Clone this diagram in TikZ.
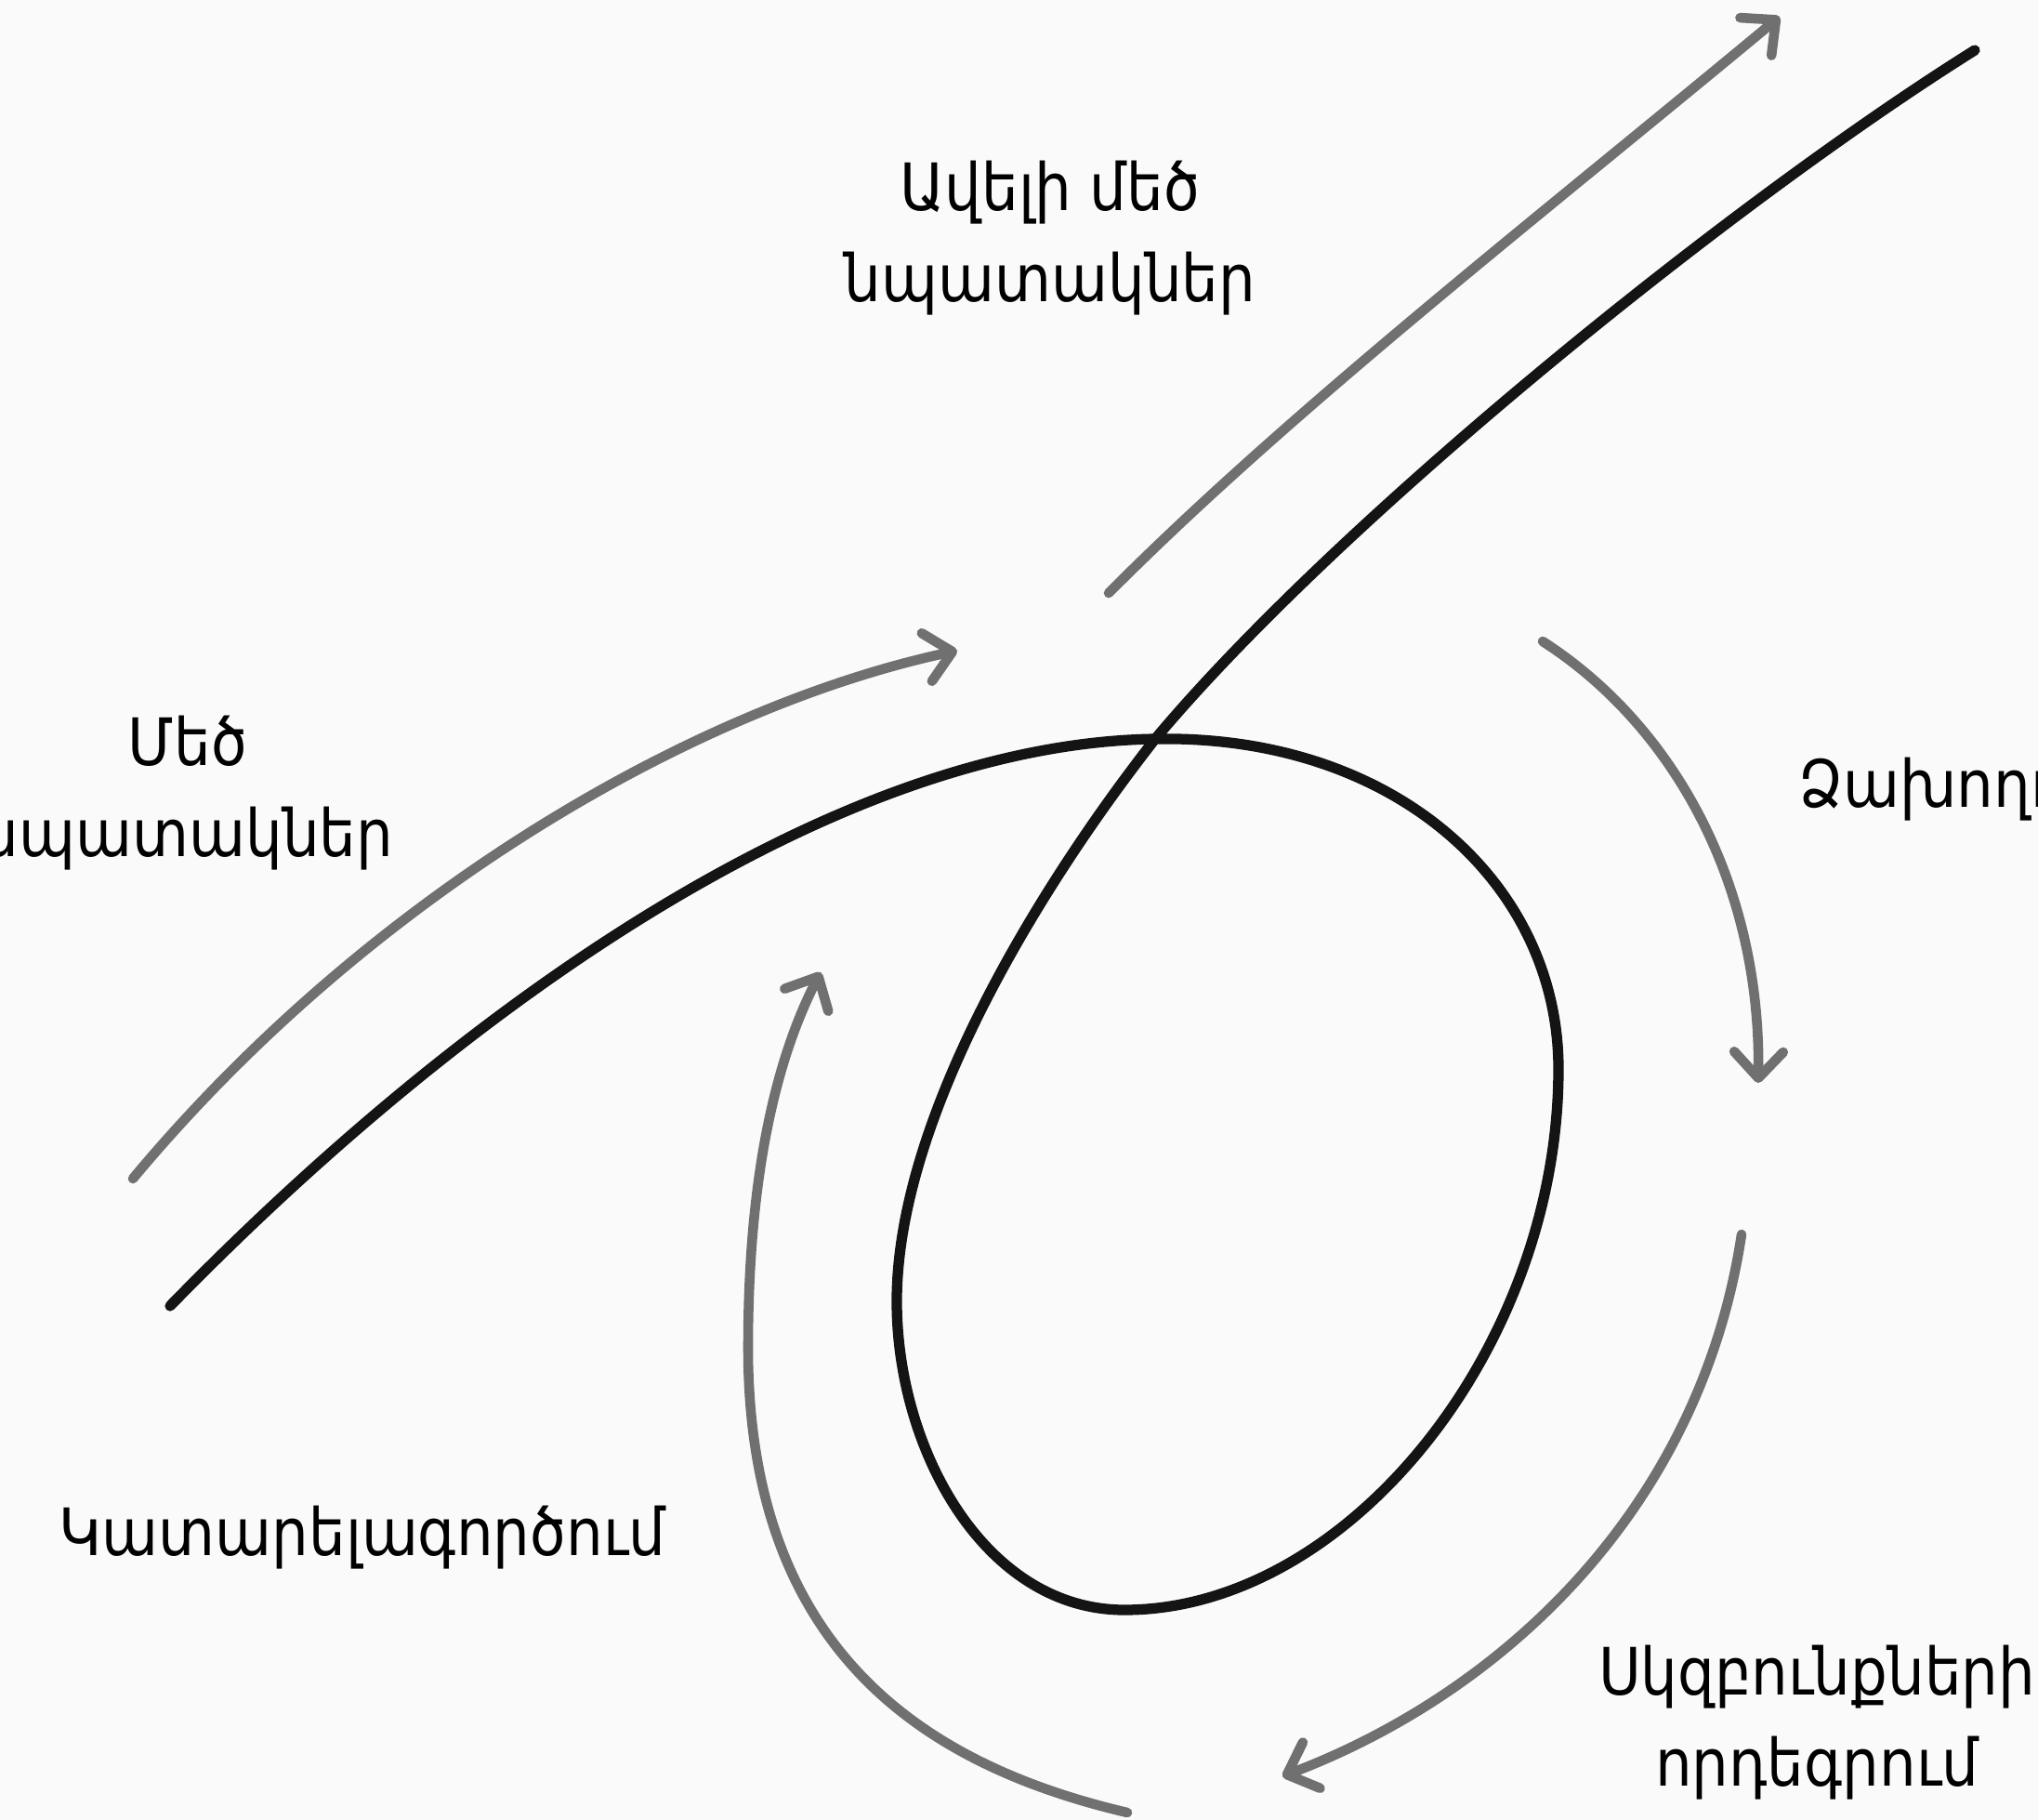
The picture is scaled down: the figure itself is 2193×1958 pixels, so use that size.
\documentclass[tikz,border=0pt]{standalone}
\usepackage{fontspec}
\setmainfont{DejaVu Sans}[FakeStretch=0.89]
\usetikzlibrary{arrows.meta}
\definecolor{paper}{RGB}{250,250,250}
\definecolor{ink}{RGB}{20,20,20}
\definecolor{flowgray}{RGB}{112,112,112}

\begin{document}
\begin{tikzpicture}[x=0.01cm,y=-0.01cm,
    txt/.style={font=\fontsize{20}{27.9}\selectfont,align=center,inner sep=0pt},
    loopline/.style={line width=3.2pt,line cap=round,draw=ink},
    flow/.style={line width=3pt,line cap=round,draw=flowgray,
      -{Straight Barb[length=8pt,width=15pt,round]}}]

  \useasboundingbox (0,0) rectangle (2193,1958);
  \fill[paper] (0,0) rectangle (2193,1958);

  % the black path with its loop
  \coordinate (start) at (183,1405);
  \coordinate (cross) at (1243,795);
  \coordinate (right) at (1677,1150);
  \coordinate (bottom) at (1210,1732);
  \coordinate (left) at (965,1400);
  \coordinate (top) at (2125,54);
  \draw[loopline] (start) .. controls (500,1080) and (900,800) .. (cross)
    .. controls (1500,790) and (1677,950) .. (right)
    .. controls (1677,1450) and (1450,1732) .. (bottom)
    .. controls (1060,1732) and (965,1560) .. (left)
    .. controls (965,1200) and (1123,948) .. (cross)
    .. controls (1440,560) and (1860,220) .. (top);

  % gray arrows
  \coordinate (midS) at (143,1268);   \coordinate (midE) at (1030,700);
  \coordinate (bigS) at (1193,638);   \coordinate (bigE) at (1915,18);
  \coordinate (failS) at (1660,690);  \coordinate (failE) at (1892,1165);
  \coordinate (adoptS) at (1874,1328); \coordinate (adoptE) at (1380,1911);
  \coordinate (impS) at (1213,1950);  \coordinate (impE) at (883,1046);
  \draw[flow] (midS) .. controls (400,960) and (750,760) .. (midE);
  \draw[flow] (bigS) .. controls (1390,440) and (1660,230) .. (bigE);
  \draw[flow] (failS) .. controls (1800,780) and (1895,950) .. (failE);
  \draw[flow] (adoptS) .. controls (1830,1620) and (1620,1820) .. (adoptE);
  \draw[flow] (impS) .. controls (1000,1900) and (805,1780) .. (805,1450)
    .. controls (805,1250) and (840,1130) .. (impE);

  % labels
  \node[txt] (big) at (1130,256) {Ավելի մեծ\\նպատակներ};
  \node[txt] (mid) at (202,853) {Մեծ\\նպատակներ};
  \node[txt,anchor=base west] (fail) at (1935,868) {Ձախողում};
  \node[txt] (adopt) at (1955,1853) {Սկզբունքների\\որդեգրում};
  \node[txt] (improve) at (390,1654) {Կատարելագործում};
\end{tikzpicture}
\end{document}
